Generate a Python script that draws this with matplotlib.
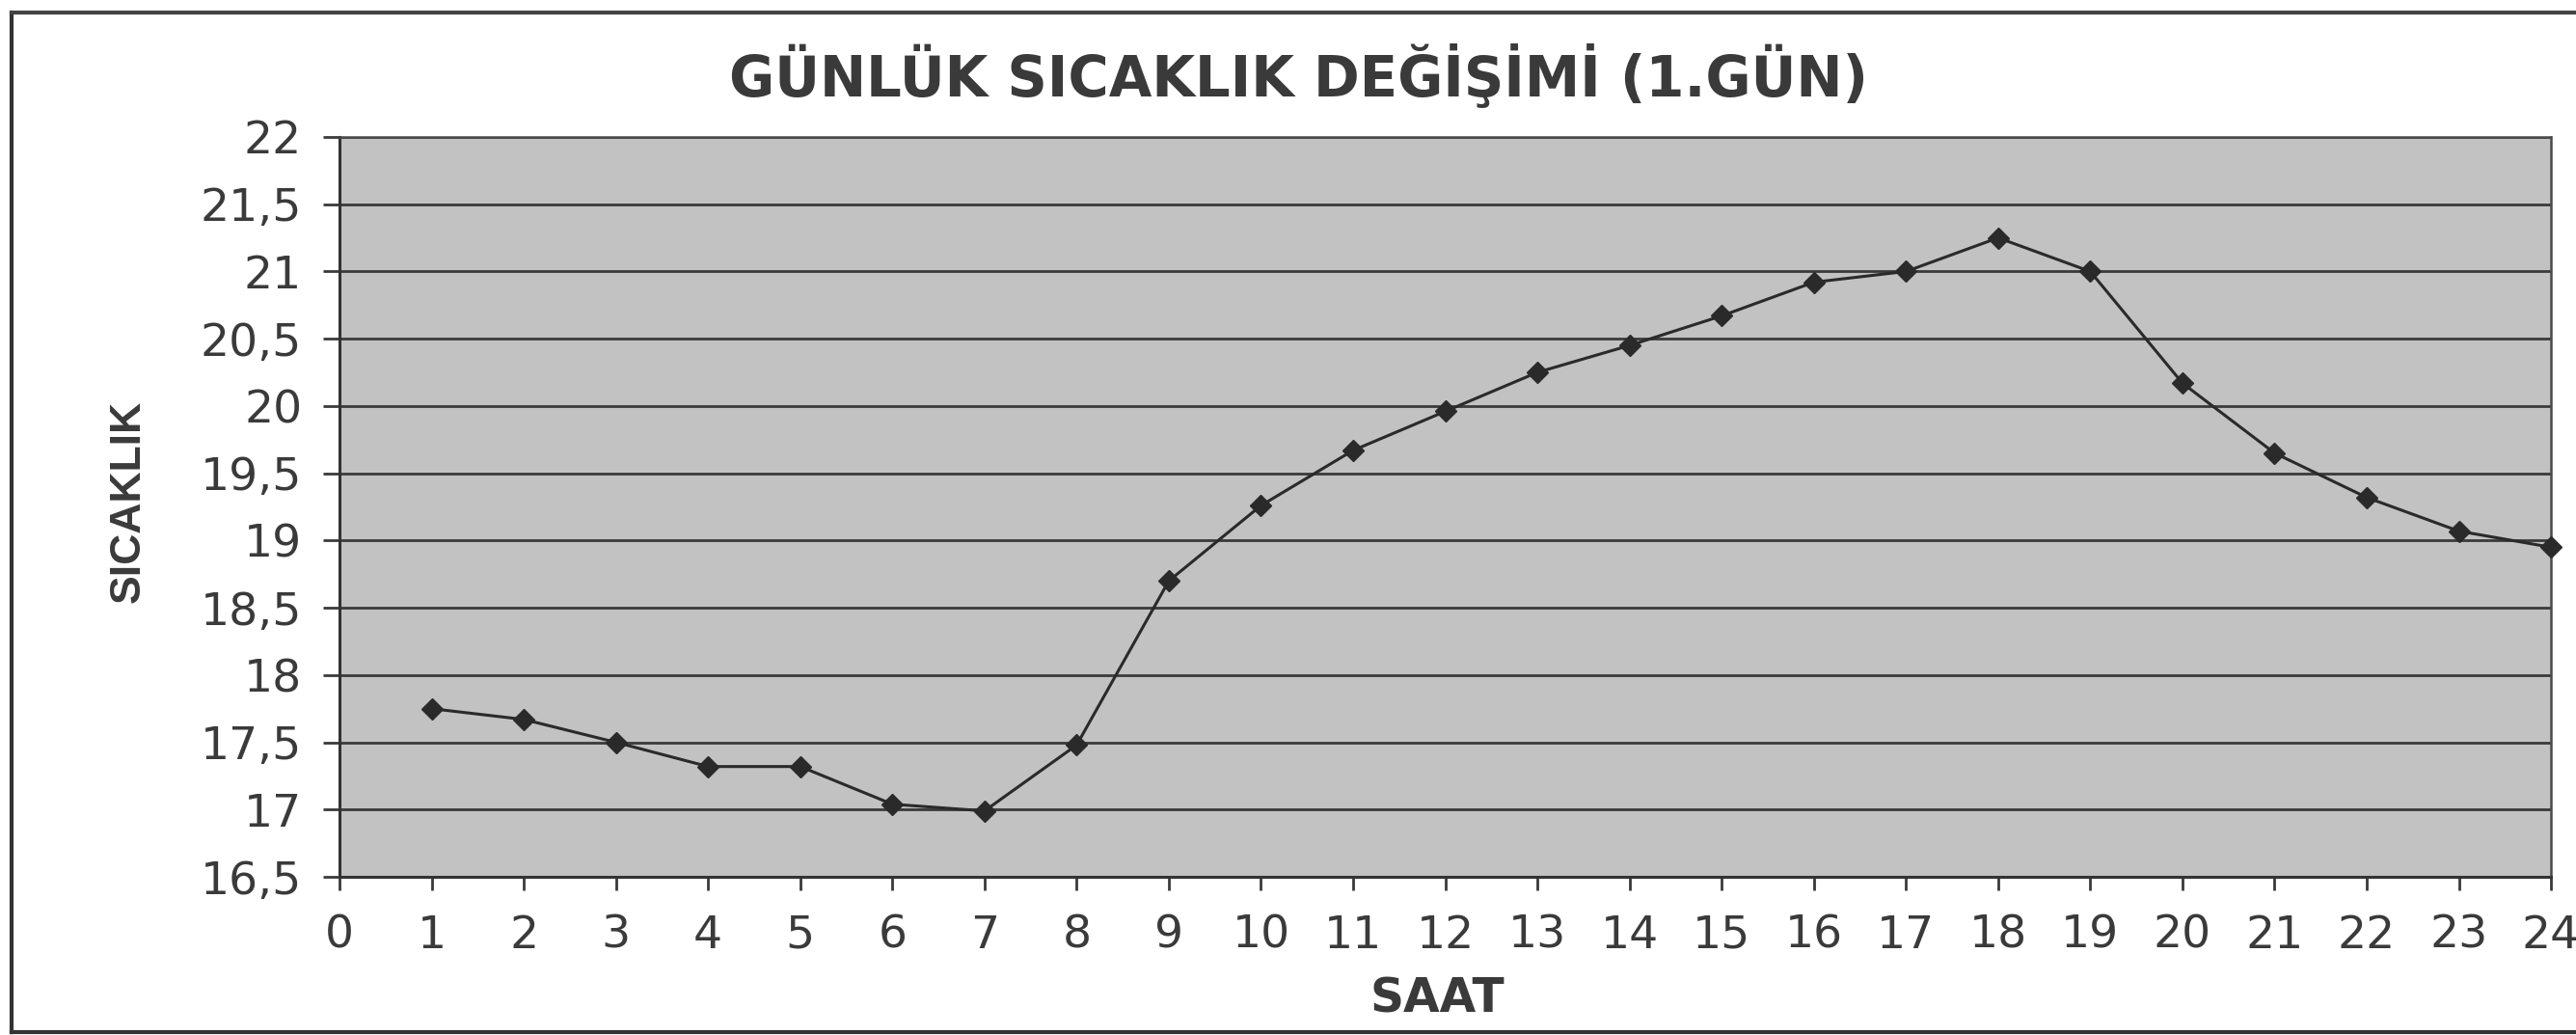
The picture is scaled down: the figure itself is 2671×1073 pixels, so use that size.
import matplotlib
matplotlib.use('Agg')
import matplotlib.pyplot as plt
from matplotlib.lines import Line2D

saat = [1, 2, 3, 4, 5, 6, 7, 8, 9, 10, 11, 12,
        13, 14, 15, 16, 17, 18, 19, 20, 21, 22, 23, 24]
sicaklik = [17.75, 17.67, 17.5, 17.32, 17.32, 17.04, 16.99, 17.48, 18.7, 19.26,
            19.67, 19.96, 20.25, 20.45, 20.67, 20.92, 21.0, 21.25, 21.0, 20.17,
            19.65, 19.32, 19.07, 18.95]
x_ticks = [0, 1, 2, 3, 4, 5, 6, 7, 8, 9, 10, 11, 12,
           13, 14, 15, 16, 17, 18, 19, 20, 21, 22, 23, 24]
y_ticks = [16.5, 17, 17.5, 18, 18.5, 19, 19.5, 20, 20.5, 21, 21.5, 22]
y_tick_labels = ['16,5', '17', '17,5', '18', '18,5', '19', '19,5',
                 '20', '20,5', '21', '21,5', '22']

txt = '#3a3a3a'

fig = plt.figure(figsize=(26.71, 10.73), dpi=100)
ax = fig.add_axes([0.1318, 0.1528, 0.8585, 0.7149])
ax.set_facecolor('#c2c2c2')

ax.plot(saat, sicaklik, color='#2a2a2a', lw=2.2, marker='D', ms=11,
        clip_on=False, zorder=3)

ax.set_xlim(0, 24)
ax.set_ylim(16.5, 22)
ax.set_xticks(x_ticks)
ax.set_yticks(y_ticks)
ax.set_yticklabels(y_tick_labels)
ax.yaxis.grid(True, color='#3a3a3a', lw=2)
ax.set_axisbelow(True)

for s in ['left', 'bottom']:
    ax.spines[s].set_color('#333333')
    ax.spines[s].set_linewidth(2.2)
for s in ['top', 'right']:
    ax.spines[s].set_color('#4a4a4a')
    ax.spines[s].set_linewidth(1.8)
    ax.spines[s].set_linestyle((0, (1, 1)))

ax.tick_params(axis='y', length=12, width=2, pad=16, labelsize=34,
               colors=txt)
ax.tick_params(axis='x', length=10, width=2, pad=18, labelsize=34,
               colors=txt)

fig.text(0.504, 0.927, 'GÜNLÜK SICAKLIK DEĞİŞİMİ (1.GÜN)', ha='center',
         va='center', fontsize=41.5, fontweight='bold', color=txt)
fig.text(0.558, 0.0345, 'SAAT', ha='center', va='center', fontsize=35,
         fontweight='bold', color=txt)
fig.text(0.0498, 0.515, 'SICAKLIK', ha='center', va='center', fontsize=32,
         fontweight='bold', color=txt, rotation=90,
         family='Liberation Sans')

# outer chart frame
fig.add_artist(Line2D([0.0045, 0.0045], [0.0028, 0.988], color='#333333',
                      lw=3, transform=fig.transFigure))
fig.add_artist(Line2D([0.0045, 1.0], [0.988, 0.988], color='#444444',
                      lw=3, transform=fig.transFigure))
fig.add_artist(Line2D([0.0045, 1.0], [0.0028, 0.0028], color='#333333',
                      lw=3, transform=fig.transFigure))

fig.savefig('out.png', dpi=100)
